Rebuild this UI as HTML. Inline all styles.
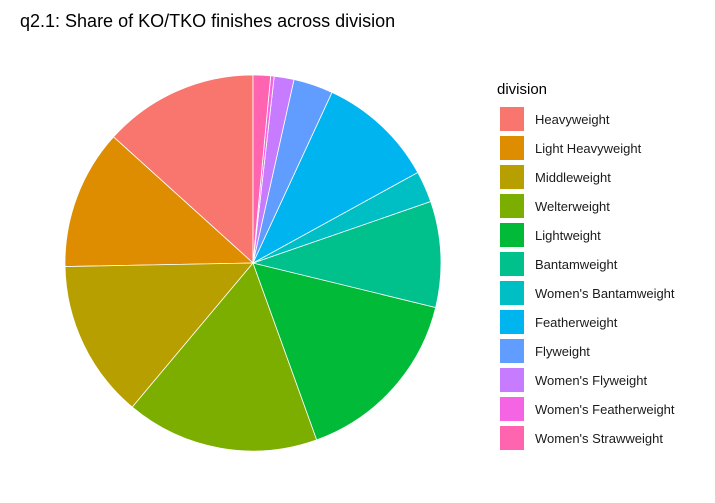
<!DOCTYPE html>
<html><head><meta charset="utf-8"><style>
body{margin:0;background:#fff;font-family:"Liberation Sans",sans-serif;}
</style></head><body>
<svg id="chart" width="715" height="498">
<text x="20" y="27" font-size="18" fill="#000">q2.1: Share of KO/TKO finishes across division</text>
<g id="slices"></g>
<text x="497" y="94" font-size="15" fill="#000">division</text>
<g id="legend"></g>
</svg>
<script>
const categories=["Heavyweight","Light Heavyweight","Middleweight","Welterweight","Lightweight","Bantamweight","Women's Bantamweight","Featherweight","Flyweight","Women's Flyweight","Women's Featherweight","Women's Strawweight"];
const shares=[13.3,12.0,13.6,16.6,15.7,9.1,2.7,10.1,3.4,1.7,0.3,1.5];
const colors=["#F8766D","#DE8C00","#B79F00","#7CAE00","#00BA38","#00C08B","#00BFC4","#00B4F0","#619CFF","#C77CFF","#F564E3","#FF64B0"];
const NS="http://www.w3.org/2000/svg";
const cx=253,cy=263,r=188;
const total=shares.reduce((a,b)=>a+b,0);
function pt(frac){const a=-frac*2*Math.PI;return [cx+r*Math.sin(a),cy-r*Math.cos(a)];}
const g=document.getElementById('slices');
let cum=0;
shares.forEach((v,i)=>{
  const f0=cum/total,f1=(cum+v)/total;cum+=v;
  const p0=pt(f0),p1=pt(f1);
  const large=(f1-f0)>0.5?1:0;
  const p=document.createElementNS(NS,'path');
  p.setAttribute('d',`M${cx},${cy}L${p0[0]},${p0[1]}A${r},${r} 0 ${large} 0 ${p1[0]},${p1[1]}Z`);
  p.setAttribute('fill',colors[i]);p.setAttribute('stroke','#fff');p.setAttribute('stroke-width','0.8');
  
  
  g.appendChild(p);
});
const lg=document.getElementById('legend');
categories.forEach((c,i)=>{
  const y=107+i*29;
  const rc=document.createElementNS(NS,'rect');
  rc.setAttribute('x',500);rc.setAttribute('y',y);rc.setAttribute('width',24);rc.setAttribute('height',24);rc.setAttribute('fill',colors[i]);
  
  
  lg.appendChild(rc);
  const t=document.createElementNS(NS,'text');
  t.setAttribute('x',535);t.setAttribute('y',y+17);t.setAttribute('font-size','13');t.setAttribute('fill','#1a1a1a');
  t.textContent=c;
  
  
  lg.appendChild(t);
});
</script>
</body></html>
